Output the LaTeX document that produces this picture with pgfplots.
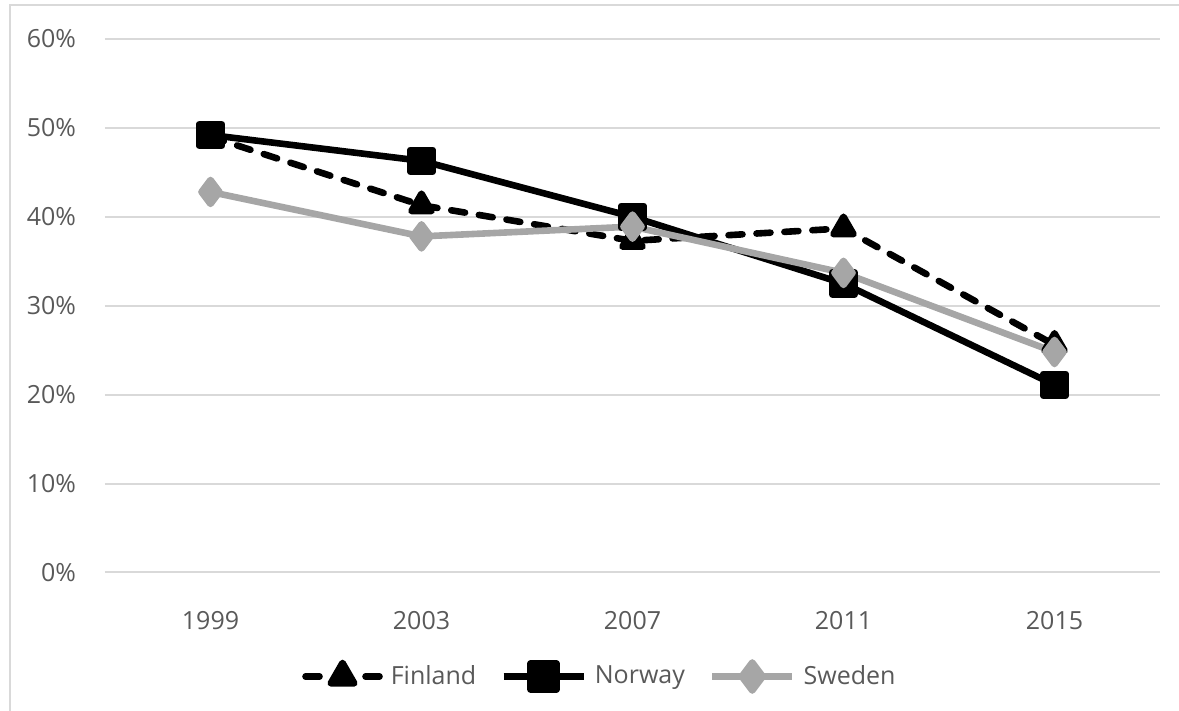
\documentclass[border=0pt]{standalone}
\usepackage{fontspec}
\setmainfont{Open Sans}
\usepackage{pgfplots}
\pgfplotsset{compat=1.18}
\definecolor{txt}{HTML}{595959}
\definecolor{gridc}{HTML}{D9D9D9}
\definecolor{swe}{HTML}{A6A6A6}
\begin{document}
\begin{tikzpicture}[x=0.5pt,y=0.5pt]
\useasboundingbox (0,0) rectangle (1179,711);
\draw[gridc, line width=1pt] (10,0) -- (10,706) -- (1179,706);
\begin{axis}[
  at={(52.5pt,69.25pt)}, anchor=south west,
  width=527.5pt, height=266.75pt, scale only axis,
  xmin=-0.5, xmax=4.5, ymin=0, ymax=60,
  axis line style={draw=none},
  major tick length=0pt,
  xtick={0,1,2,3,4},
  xticklabels={1999,2003,2007,2011,2015},
  ytick={0,10,20,30,40,50,60},
  yticklabels={0\%,10\%,20\%,30\%,40\%,50\%,60\%},
  ymajorgrids, grid style={gridc, line width=1pt},
  tick label style={font=\fontsize{12.5}{14}\selectfont, text=txt},
  yticklabel style={xshift=-11pt},
  xticklabel style={yshift=-16pt},
  legend columns=3,
  legend style={at={(0.470,-0.195)}, anchor=center, draw=none, fill=none,
    font=\fontsize{12.5}{14}\selectfont, text=txt,
    /tikz/every odd column/.append style={column sep=2pt},
    /tikz/every even column/.append style={column sep=10pt}},
  legend image code/.code={
    \draw[mark repeat=2,mark phase=2] plot coordinates {(0pt,0pt) (20pt,0pt) (40pt,0pt)};
  },
  every axis plot/.append style={line width=3.3pt, line join=round},
]
\addplot[black, dash pattern=on 7pt off 7pt, line cap=round, mark=triangle*, mark size=5.8pt, mark options={solid},
  legend image code/.code={
    \draw[mark repeat=2,mark phase=2, dash pattern=on 7pt off 23pt, mark size=6.8pt] plot coordinates {(1.5pt,0pt) (20pt,0pt) (38.5pt,0pt)};
  }]
  coordinates {(0,49.0) (1,41.3) (2,37.3) (3,38.7) (4,25.6)};
\addlegendentry{Finland}
\addplot[black, mark=square*, mark size=5.5pt,
  legend image code/.code={
    \draw[mark repeat=2,mark phase=2, mark size=6.4pt] plot coordinates {(0pt,0pt) (20pt,0pt) (40pt,0pt)};
  }]
  coordinates {(0,49.2) (1,46.3) (2,40.0) (3,32.5) (4,21.1)};
\addlegendentry{Norway}
\addplot[swe, mark=diamond*, mark size=6pt,
  legend image code/.code={
    \draw[mark repeat=2,mark phase=2, mark size=7pt] plot coordinates {(0pt,0pt) (20pt,0pt) (40pt,0pt)};
  }]
  coordinates {(0,42.8) (1,37.8) (2,38.9) (3,33.7) (4,24.8)};
\addlegendentry{Sweden}
\end{axis}
\end{tikzpicture}
\end{document}
